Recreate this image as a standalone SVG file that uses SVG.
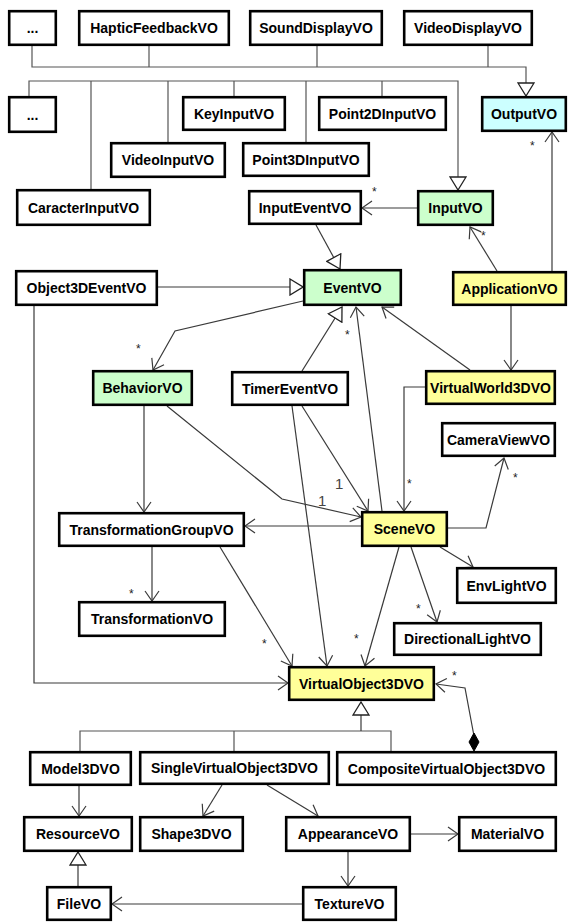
<svg xmlns="http://www.w3.org/2000/svg" width="568" height="923" viewBox="0 0 568 923">
<defs>
<style>
.n rect{fill:#fff;stroke:#000;stroke-width:2.6}
.n.g rect{fill:#ccffcc}
.n.y rect{fill:#ffff99}
.n.c rect{fill:#ccffff}
.n text{font-family:"Liberation Sans",Arial,sans-serif;font-size:14px;font-weight:bold;text-anchor:middle;fill:#000}
#edges path{fill:none;stroke:#3a3a3a;stroke-width:1.2}
#edges path.bus{stroke:#555}
.ar{marker-end:url(#open)}
.tr{marker-end:url(#tri)}
.lbl{font-family:"Liberation Sans",Arial,sans-serif;font-size:12px;fill:#222}
.one{font-family:"Liberation Sans",Arial,sans-serif;font-size:15px;fill:#444}
</style>
<marker id="open" viewBox="0 0 12 16" refX="11" refY="8" markerWidth="12" markerHeight="16" markerUnits="userSpaceOnUse" orient="auto">
<path d="M1,1 L11,8 L1,15" fill="none" stroke="#3a3a3a" stroke-width="1.2"/>
</marker>
<marker id="tri" viewBox="0 0 15 18" refX="14" refY="9" markerWidth="15" markerHeight="18" markerUnits="userSpaceOnUse" orient="auto">
<path d="M1,1 L14,9 L1,17 Z" fill="#fff" stroke="#222" stroke-width="1.3"/>
</marker>
</defs>
<rect width="568" height="923" fill="#fff"/>

<g id="edges">
<path class="bus tr" d="M32,46 V67 H526 V96"/>
<path class="bus" d="M149,46 V67 M317,46 V67 M488,46 V67"/>
<path class="bus tr" d="M29,96 V81 H458 V190"/>
<path class="bus" d="M91,81 V189 M168,81 V142 M234,81 V96 M306,81 V142 M382,81 V96"/>
<path class="ar" d="M417,208 H362"/>
<path class="tr" d="M316,225 L340,269"/>
<path class="tr" d="M158,287 H303"/>
<path class="ar" d="M34,306 V683 H288"/>
<path class="ar" d="M303,301 L175,331 L153,370"/>
<path class="tr" d="M302,371 L342,307"/>
<path class="ar" d="M382,511 L356,307"/>
<path class="ar" d="M470,370 L382,307"/>
<path class="ar" d="M497,271 L470,227"/>
<path class="ar" d="M552,271 V132"/>
<path class="ar" d="M511,306 V370"/>
<path class="ar" d="M425,387 H404 V511"/>
<path class="ar" d="M448,528 H486 L504,458"/>
<path class="ar" d="M440,547 L473,567"/>
<path class="ar" d="M411,547 L437,622"/>
<path class="ar" d="M399,547 L365,666"/>
<path class="ar" d="M361,526 H245"/>
<path class="ar" d="M144,406 V512"/>
<path class="ar" d="M167,406 L282,499 L361,517"/>
<path class="ar" d="M302,406 L368,511"/>
<path class="ar" d="M292,406 L327,666"/>
<path class="ar" d="M152,547 V601"/>
<path class="ar" d="M220,547 L292,666"/>
<path class="ar" d="M474,736 L465,688 L436,684"/>
<polygon points="474,733 479,742 474,751 469,742" fill="#000" stroke="#000" stroke-width="1"/>
<path class="bus" d="M80,751 V731 H391 V751 M234,731 V751"/>
<path class="tr" d="M361,731 V702"/>
<path class="ar" d="M79,786 V816"/>
<path class="ar" d="M222,785 L203,816"/>
<path class="ar" d="M267,785 L318,816"/>
<path class="ar" d="M411,834 H458"/>
<path class="ar" d="M348,852 V886"/>
<path class="ar" d="M302,904 H112"/>
<path class="tr" d="M78,886 V852"/>
<text class="lbl" x="372" y="196">*</text>
<text class="lbl" x="136" y="353">*</text>
<text class="lbl" x="345" y="339">*</text>
<text class="lbl" x="481" y="240">*</text>
<text class="lbl" x="530" y="150">*</text>
<text class="lbl" x="407" y="488">*</text>
<text class="lbl" x="513" y="482">*</text>
<text class="lbl" x="416" y="613">*</text>
<text class="lbl" x="354" y="643">*</text>
<text class="lbl" x="129" y="598">*</text>
<text class="lbl" x="262" y="648">*</text>
<text class="lbl" x="452" y="680">*</text>
<text class="one" x="318" y="506">1</text>
<text class="one" x="335" y="489">1</text>
</g>

<g id="dots1" class="n"><rect x="9.2" y="11.2" width="46.6" height="33.6"/><text x="32.5" y="33">...</text></g>
<g id="HapticFeedbackVO" class="n"><rect x="79.2" y="11.2" width="149.6" height="33.6"/><text x="154" y="33">HapticFeedbackVO</text></g>
<g id="SoundDisplayVO" class="n"><rect x="250.2" y="11.2" width="131.6" height="33.6"/><text x="316" y="33">SoundDisplayVO</text></g>
<g id="VideoDisplayVO" class="n"><rect x="404.2" y="11.2" width="127.6" height="33.6"/><text x="468" y="33">VideoDisplayVO</text></g>
<g id="dots2" class="n"><rect x="9.2" y="97.2" width="46.6" height="34.6"/><text x="32.5" y="119.5">...</text></g>
<g id="KeyInputVO" class="n"><rect x="183.2" y="97.2" width="101.6" height="32.6"/><text x="234" y="118.5">KeyInputVO</text></g>
<g id="Point2DInputVO" class="n"><rect x="319.2" y="97.2" width="126.6" height="32.6"/><text x="382.5" y="118.5">Point2DInputVO</text></g>
<g id="OutputVO" class="n c"><rect x="482.2" y="97.2" width="83.6" height="33.6"/><text x="524" y="119">OutputVO</text></g>
<g id="VideoInputVO" class="n"><rect x="111.2" y="143.2" width="113.6" height="33.6"/><text x="168" y="165">VideoInputVO</text></g>
<g id="Point3DInputVO" class="n"><rect x="243.2" y="143.2" width="125.6" height="32.6"/><text x="306" y="164.5">Point3DInputVO</text></g>
<g id="CaracterInputVO" class="n"><rect x="17.2" y="190.2" width="132.6" height="34.6"/><text x="83.5" y="212.5">CaracterInputVO</text></g>
<g id="InputEventVO" class="n"><rect x="249.2" y="191.2" width="111.6" height="32.6"/><text x="305" y="212.5">InputEventVO</text></g>
<g id="InputVO" class="n g"><rect x="418.2" y="191.2" width="74.6" height="33.6"/><text x="455.5" y="213">InputVO</text></g>
<g id="Object3DEventVO" class="n"><rect x="16.2" y="271.2" width="140.6" height="33.6"/><text x="86.5" y="293">Object3DEventVO</text></g>
<g id="EventVO" class="n g"><rect x="304.2" y="270.2" width="96.6" height="34.6"/><text x="352.5" y="292.5">EventVO</text></g>
<g id="ApplicationVO" class="n y"><rect x="453.2" y="272.2" width="112.6" height="32.6"/><text x="509.5" y="293.5">ApplicationVO</text></g>
<g id="BehaviorVO" class="n g"><rect x="93.2" y="371.2" width="98.6" height="33.6"/><text x="142.5" y="393">BehaviorVO</text></g>
<g id="TimerEventVO" class="n"><rect x="232.2" y="372.2" width="115.6" height="32.6"/><text x="290" y="393.5">TimerEventVO</text></g>
<g id="VirtualWorld3DVO" class="n y"><rect x="426.2" y="371.2" width="128.6" height="32.6"/><text x="490.5" y="392.5">VirtualWorld3DVO</text></g>
<g id="CameraViewVO" class="n"><rect x="442.2" y="423.2" width="112.6" height="32.6"/><text x="498.5" y="444.5">CameraViewVO</text></g>
<g id="TransformationGroupVO" class="n"><rect x="59.2" y="513.2" width="184.6" height="32.6"/><text x="151.5" y="534.5">TransformationGroupVO</text></g>
<g id="SceneVO" class="n y"><rect x="362.2" y="512.2" width="84.6" height="33.6"/><text x="404.5" y="534">SceneVO</text></g>
<g id="EnvLightVO" class="n"><rect x="457.2" y="568.2" width="98.6" height="34.6"/><text x="506.5" y="590.5">EnvLightVO</text></g>
<g id="TransformationVO" class="n"><rect x="79.2" y="602.2" width="145.6" height="33.6"/><text x="152" y="624">TransformationVO</text></g>
<g id="DirectionalLightVO" class="n"><rect x="394.2" y="623.2" width="146.6" height="31.6"/><text x="467.5" y="644">DirectionalLightVO</text></g>
<g id="VirtualObject3DVO" class="n y"><rect x="289.2" y="667.2" width="144.6" height="32.6"/><text x="361.5" y="688.5">VirtualObject3DVO</text></g>
<g id="Model3DVO" class="n"><rect x="30.2" y="752.2" width="100.6" height="32.6"/><text x="80.5" y="773.5">Model3DVO</text></g>
<g id="SingleVirtualObject3DVO" class="n"><rect x="140.2" y="752.2" width="188.6" height="31.6"/><text x="234.5" y="773">SingleVirtualObject3DVO</text></g>
<g id="CompositeVirtualObject3DVO" class="n"><rect x="337.2" y="752.2" width="218.6" height="32.6"/><text x="446.5" y="773.5">CompositeVirtualObject3DVO</text></g>
<g id="ResourceVO" class="n"><rect x="24.2" y="817.2" width="107.6" height="33.6"/><text x="78" y="839">ResourceVO</text></g>
<g id="Shape3DVO" class="n"><rect x="140.2" y="817.2" width="102.6" height="33.6"/><text x="191.5" y="839">Shape3DVO</text></g>
<g id="AppearanceVO" class="n"><rect x="286.2" y="817.2" width="123.6" height="33.6"/><text x="348" y="839">AppearanceVO</text></g>
<g id="MaterialVO" class="n"><rect x="459.2" y="817.2" width="96.6" height="33.6"/><text x="507.5" y="839">MaterialVO</text></g>
<g id="FileVO" class="n"><rect x="47.2" y="887.2" width="63.6" height="32.6"/><text x="79" y="908.5">FileVO</text></g>
<g id="TextureVO" class="n"><rect x="303.2" y="887.2" width="92.6" height="32.6"/><text x="349.5" y="908.5">TextureVO</text></g>
</svg>
